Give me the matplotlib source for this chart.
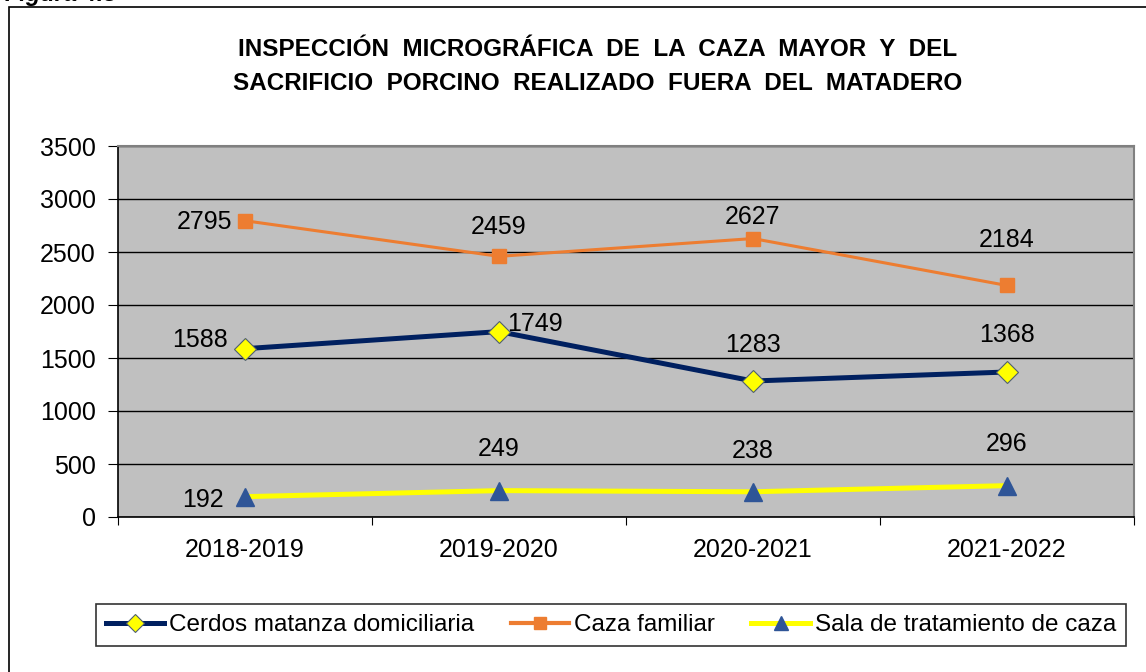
import matplotlib.pyplot as plt
from matplotlib.patches import Rectangle
from matplotlib.lines import Line2D

plt.rcParams['font.family'] = ['Liberation Sans', 'DejaVu Sans']

# data
temporadas = ["2018-2019", "2019-2020", "2020-2021", "2021-2022"]
cerdos = [1588, 1749, 1283, 1368]
caza = [2795, 2459, 2627, 2184]
sala = [192, 249, 238, 296]

W, H = 1146, 672
fig = plt.figure(figsize=(W / 100, H / 100), dpi=100)

# outer frame of the chart
fig.patches.append(Rectangle((9 / W, -0.05), 1.2, 1 - 7 / H + 0.05,
                             transform=fig.transFigure, fill=False,
                             edgecolor="black", linewidth=1.2))
fig.text(5 / W, 1 + 5 / H, "Figura 4.8", fontsize=17, fontweight="bold",
         style="italic", va="center", ha="left")

ax = fig.add_axes([118 / W, 1 - 517 / H, (1134 - 118) / W, (517 - 146) / H])
ax.set_facecolor("#C0C0C0")
x = range(len(temporadas))

ax.plot(x, caza, color="#ED7D31", linewidth=2.2, marker="s", markersize=10,
        markeredgecolor="#ED7D31", zorder=3)
ax.plot(x, cerdos, color="#002060", linewidth=3.6, marker="D", markersize=11,
        markerfacecolor="#FFFF00", markeredgecolor="#4F6070", markeredgewidth=0.8,
        zorder=4)
ax.plot(x, sala, color="#FFFF00", linewidth=3.6, marker="^", markersize=13,
        markerfacecolor="#2F5597", markeredgecolor="#2F5597", zorder=3)

ax.set_xlim(-0.5, 3.5)
ax.set_ylim(0, 3500)
ax.set_yticks(range(0, 3501, 500))
ax.grid(axis="y", color="black", linewidth=1)
ax.set_axisbelow(True)
ax.set_xticks([i + 0.5 for i in range(-1, 4)], minor=False)
ax.set_xticklabels([])
ax.set_xticks(list(x), minor=True)
ax.set_xticklabels(temporadas, minor=True, fontsize=18)
ax.tick_params(axis="x", which="minor", length=0, pad=15)
ax.tick_params(axis="x", which="major", length=6, direction="out")
ax.tick_params(axis="y", labelsize=18, length=7, pad=9)

for side in ["top", "right"]:
    ax.spines[side].set_color("#808080")
    ax.spines[side].set_linewidth(1.5)
for side in ["left", "bottom"]:
    ax.spines[side].set_color("black")
    ax.spines[side].set_linewidth(1.2)

# data labels: offset in pixels from the point
lab_cerdos = [(-45, 9), (36, 8), (0, 36), (0, 37)]
lab_caza = [(-40, -1), (0, 29), (0, 22), (0, 45)]
lab_sala = [(-42, -3), (0, 42), (0, 41), (0, 42)]
for vals, offs in [(cerdos, lab_cerdos), (caza, lab_caza), (sala, lab_sala)]:
    for i, (v, o) in enumerate(zip(vals, offs)):
        ax.annotate(str(v), (i, v), xytext=o, textcoords="offset pixels",
                    ha="center", va="center", fontsize=18)

fig.text(598 / W, 1 - 50 / H, "INSPECCIÓN  MICROGRÁFICA  DE  LA  CAZA  MAYOR  Y  DEL",
         ha="center", va="center", fontsize=17.5, fontweight="bold")
fig.text(598 / W, 1 - 84 / H, "SACRIFICIO  PORCINO  REALIZADO  FUERA  DEL  MATADERO",
         ha="center", va="center", fontsize=17.5, fontweight="bold")

handles = [
    Line2D([], [], color="#002060", linewidth=3.6, marker="D", markersize=9,
           markerfacecolor="#FFFF00", markeredgecolor="#4F6070", markeredgewidth=0.8),
    Line2D([], [], color="#ED7D31", linewidth=3, marker="s", markersize=9,
           markeredgecolor="#ED7D31"),
    Line2D([], [], color="#FFFF00", linewidth=3.6, marker="^", markersize=10,
           markerfacecolor="#2F5597", markeredgecolor="#2F5597"),
]
labels = ["Cerdos matanza domiciliaria", "Caza familiar", "Sala de tratamiento de caza"]
leg = fig.legend(handles, labels, loc="center", ncol=3,
                 bbox_to_anchor=(611 / W, 1 - 625 / H), fontsize=17.5,
                 frameon=True, fancybox=False, edgecolor="black",
                 handlelength=2.4, handletextpad=0.2, columnspacing=1.5,
                 borderpad=0.4, borderaxespad=0.0)
leg.get_frame().set_linewidth(1.2)

fig.savefig("out.png", dpi=100)
